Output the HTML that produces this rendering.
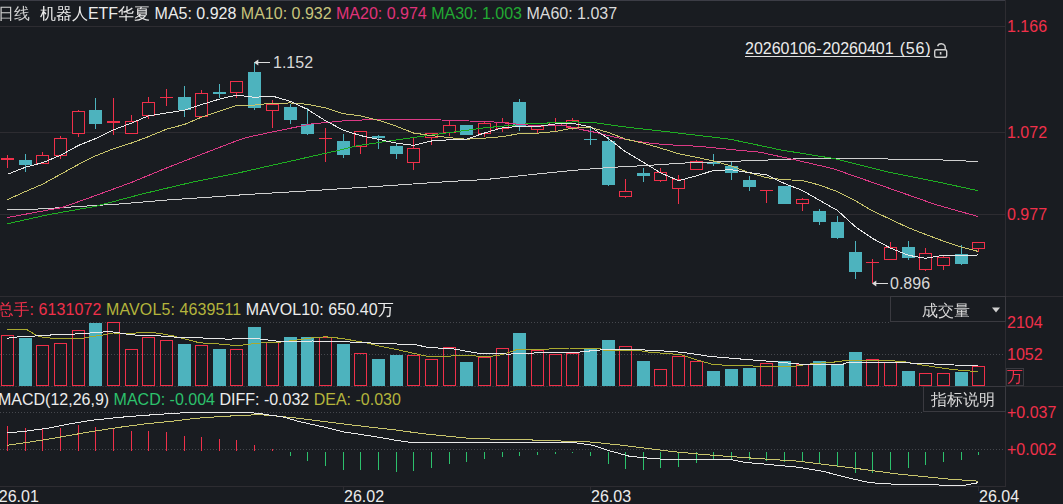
<!DOCTYPE html>
<html><head><meta charset="utf-8"><style>
html,body{margin:0;padding:0;background:#191c21;width:1063px;height:504px;overflow:hidden}
#root{position:relative;width:1063px;height:504px;overflow:hidden;background:#191c21}
svg{position:absolute;left:0;top:0}
.t{position:absolute;white-space:nowrap;font-family:'Liberation Sans','WenQuanYi Zen Hei',sans-serif;line-height:18px}
.ul{text-decoration:underline;text-decoration-skip-ink:none;text-underline-offset:2.5px}
</style></head><body><div id="root">
<svg width="1063" height="504" viewBox="0 0 1063 504">
<g shape-rendering="crispEdges" stroke-width="1" fill="none">
<line x1="0" y1="0.5" x2="1005" y2="0.5" stroke="#3c3d46"/>
<line x1="0" y1="26.5" x2="1005" y2="26.5" stroke="#2d2c31"/>
<line x1="0" y1="132.5" x2="1005" y2="132.5" stroke="#2d2c31"/>
<line x1="0" y1="214.5" x2="1005" y2="214.5" stroke="#2d2c31"/>
<line x1="0" y1="296.5" x2="1063" y2="296.5" stroke="#2d2c31"/>
<line x1="0" y1="322.5" x2="890" y2="322.5" stroke="#45474d" stroke-dasharray="1 2"/>
<line x1="0" y1="354.5" x2="1005" y2="354.5" stroke="#45474d" stroke-dasharray="1 2"/>
<line x1="0" y1="386.5" x2="1005" y2="386.5" stroke="#333238" stroke-dasharray="2 1"/><line x1="1005" y1="386.5" x2="1063" y2="386.5" stroke="#2d2c31"/>
<line x1="0" y1="412.5" x2="924" y2="412.5" stroke="#45474d" stroke-dasharray="1 2"/>
<line x1="0" y1="449.5" x2="1005" y2="449.5" stroke="#45474d" stroke-dasharray="1 2"/>
<line x1="0" y1="486.5" x2="1005" y2="486.5" stroke="#2d2c31"/>
<line x1="1005.5" y1="0" x2="1005.5" y2="487" stroke="#2d2c31"/>
<line x1="343.5" y1="487" x2="343.5" y2="491" stroke="#2d2c31"/>
<line x1="590.5" y1="487" x2="590.5" y2="491" stroke="#2d2c31"/>
<line x1="978.5" y1="487" x2="978.5" y2="491" stroke="#2d2c31"/>
</g>
<g shape-rendering="crispEdges">
<rect x="7" y="155" width="1" height="13" fill="#f0304a"/>
<rect x="1" y="158" width="13" height="2" fill="#f0304a"/>
<rect x="25" y="154" width="1" height="18" fill="#4db3be"/>
<rect x="19" y="160" width="13" height="5" fill="#4db3be"/>
<rect x="42" y="152" width="1" height="12" fill="#f0304a"/>
<rect x="36" y="155" width="13" height="9" fill="#191c21"/>
<rect x="36.5" y="155.5" width="12" height="8" fill="none" stroke="#f0304a"/>
<rect x="60" y="136" width="1" height="23" fill="#f0304a"/>
<rect x="54" y="138" width="13" height="18" fill="#191c21"/>
<rect x="54.5" y="138.5" width="12" height="17" fill="none" stroke="#f0304a"/>
<rect x="78" y="110" width="1" height="27" fill="#f0304a"/>
<rect x="72" y="111" width="13" height="23" fill="#191c21"/>
<rect x="72.5" y="111.5" width="12" height="22" fill="none" stroke="#f0304a"/>
<rect x="95" y="98" width="1" height="31" fill="#4db3be"/>
<rect x="89" y="110" width="13" height="14" fill="#4db3be"/>
<rect x="113" y="98" width="1" height="37" fill="#f0304a"/>
<rect x="107" y="121" width="13" height="2" fill="#f0304a"/>
<rect x="131" y="115" width="1" height="19" fill="#f0304a"/>
<rect x="125" y="121" width="13" height="13" fill="#191c21"/>
<rect x="125.5" y="121.5" width="12" height="12" fill="none" stroke="#f0304a"/>
<rect x="148" y="97" width="1" height="22" fill="#f0304a"/>
<rect x="142" y="102" width="13" height="14" fill="#191c21"/>
<rect x="142.5" y="102.5" width="12" height="13" fill="none" stroke="#f0304a"/>
<rect x="166" y="89" width="1" height="17" fill="#f0304a"/>
<rect x="160" y="97" width="13" height="1" fill="#f0304a"/>
<rect x="184" y="86" width="1" height="31" fill="#4db3be"/>
<rect x="178" y="97" width="13" height="13" fill="#4db3be"/>
<rect x="201" y="90" width="1" height="27" fill="#f0304a"/>
<rect x="195" y="93" width="13" height="24" fill="#191c21"/>
<rect x="195.5" y="93.5" width="12" height="23" fill="none" stroke="#f0304a"/>
<rect x="219" y="84" width="1" height="14" fill="#4db3be"/>
<rect x="213" y="92" width="13" height="2" fill="#4db3be"/>
<rect x="236" y="81" width="1" height="17" fill="#f0304a"/>
<rect x="230" y="81" width="13" height="12" fill="#191c21"/>
<rect x="230.5" y="81.5" width="12" height="11" fill="none" stroke="#f0304a"/>
<rect x="254" y="62" width="1" height="48" fill="#4db3be"/>
<rect x="248" y="72" width="13" height="36" fill="#4db3be"/>
<rect x="272" y="100" width="1" height="28" fill="#f0304a"/>
<rect x="266" y="104" width="13" height="7" fill="#191c21"/>
<rect x="266.5" y="104.5" width="12" height="6" fill="none" stroke="#f0304a"/>
<rect x="290" y="104" width="1" height="20" fill="#4db3be"/>
<rect x="284" y="107" width="13" height="13" fill="#4db3be"/>
<rect x="307" y="108" width="1" height="27" fill="#4db3be"/>
<rect x="301" y="124" width="13" height="10" fill="#4db3be"/>
<rect x="325" y="128" width="1" height="34" fill="#f0304a"/>
<rect x="319" y="138" width="13" height="1" fill="#f0304a"/>
<rect x="343" y="134" width="1" height="24" fill="#4db3be"/>
<rect x="337" y="141" width="13" height="14" fill="#4db3be"/>
<rect x="360" y="131" width="1" height="23" fill="#f0304a"/>
<rect x="354" y="131" width="13" height="16" fill="#191c21"/>
<rect x="354.5" y="131.5" width="12" height="15" fill="none" stroke="#f0304a"/>
<rect x="378" y="135" width="1" height="14" fill="#4db3be"/>
<rect x="372" y="136" width="13" height="2" fill="#4db3be"/>
<rect x="396" y="144" width="1" height="15" fill="#4db3be"/>
<rect x="390" y="146" width="13" height="8" fill="#4db3be"/>
<rect x="413" y="137" width="1" height="33" fill="#f0304a"/>
<rect x="407" y="148" width="13" height="15" fill="#191c21"/>
<rect x="407.5" y="148.5" width="12" height="14" fill="none" stroke="#f0304a"/>
<rect x="431" y="133" width="1" height="12" fill="#f0304a"/>
<rect x="425" y="133" width="13" height="5" fill="#191c21"/>
<rect x="425.5" y="133.5" width="12" height="4" fill="none" stroke="#f0304a"/>
<rect x="449" y="121" width="1" height="15" fill="#f0304a"/>
<rect x="443" y="125" width="13" height="8" fill="#191c21"/>
<rect x="443.5" y="125.5" width="12" height="7" fill="none" stroke="#f0304a"/>
<rect x="466" y="125" width="1" height="10" fill="#4db3be"/>
<rect x="460" y="125" width="13" height="10" fill="#4db3be"/>
<rect x="484" y="121" width="1" height="16" fill="#f0304a"/>
<rect x="478" y="123" width="13" height="11" fill="#191c21"/>
<rect x="478.5" y="123.5" width="12" height="10" fill="none" stroke="#f0304a"/>
<rect x="502" y="118" width="1" height="14" fill="#f0304a"/>
<rect x="496" y="122" width="13" height="7" fill="#191c21"/>
<rect x="496.5" y="122.5" width="12" height="6" fill="none" stroke="#f0304a"/>
<rect x="519" y="99" width="1" height="32" fill="#4db3be"/>
<rect x="513" y="102" width="13" height="24" fill="#4db3be"/>
<rect x="537" y="126" width="1" height="7" fill="#f0304a"/>
<rect x="531" y="126" width="13" height="4" fill="#191c21"/>
<rect x="531.5" y="126.5" width="12" height="3" fill="none" stroke="#f0304a"/>
<rect x="555" y="118" width="1" height="14" fill="#f0304a"/>
<rect x="549" y="122" width="13" height="4" fill="#191c21"/>
<rect x="549.5" y="122.5" width="12" height="3" fill="none" stroke="#f0304a"/>
<rect x="572" y="118" width="1" height="12" fill="#f0304a"/>
<rect x="566" y="120" width="13" height="8" fill="#191c21"/>
<rect x="566.5" y="120.5" width="12" height="7" fill="none" stroke="#f0304a"/>
<rect x="590" y="128" width="1" height="17" fill="#4db3be"/>
<rect x="584" y="139" width="13" height="1" fill="#4db3be"/>
<rect x="608" y="137" width="1" height="49" fill="#4db3be"/>
<rect x="602" y="141" width="13" height="44" fill="#4db3be"/>
<rect x="625" y="179" width="1" height="19" fill="#f0304a"/>
<rect x="619" y="191" width="13" height="6" fill="#191c21"/>
<rect x="619.5" y="191.5" width="12" height="5" fill="none" stroke="#f0304a"/>
<rect x="643" y="168" width="1" height="14" fill="#4db3be"/>
<rect x="637" y="173" width="13" height="3" fill="#4db3be"/>
<rect x="660" y="168" width="1" height="14" fill="#f0304a"/>
<rect x="654" y="172" width="13" height="9" fill="#191c21"/>
<rect x="654.5" y="172.5" width="12" height="8" fill="none" stroke="#f0304a"/>
<rect x="678" y="175" width="1" height="29" fill="#f0304a"/>
<rect x="672" y="179" width="13" height="10" fill="#191c21"/>
<rect x="672.5" y="179.5" width="12" height="9" fill="none" stroke="#f0304a"/>
<rect x="696" y="160" width="1" height="10" fill="#f0304a"/>
<rect x="690" y="161" width="13" height="9" fill="#191c21"/>
<rect x="690.5" y="161.5" width="12" height="8" fill="none" stroke="#f0304a"/>
<rect x="713" y="154" width="1" height="12" fill="#4db3be"/>
<rect x="707" y="162" width="13" height="2" fill="#4db3be"/>
<rect x="731" y="162" width="1" height="18" fill="#4db3be"/>
<rect x="725" y="166" width="13" height="7" fill="#4db3be"/>
<rect x="749" y="176" width="1" height="15" fill="#4db3be"/>
<rect x="743" y="180" width="13" height="7" fill="#4db3be"/>
<rect x="766" y="190" width="1" height="13" fill="#f0304a"/>
<rect x="760" y="190" width="13" height="1" fill="#f0304a"/>
<rect x="784" y="186" width="1" height="18" fill="#4db3be"/>
<rect x="778" y="186" width="13" height="18" fill="#4db3be"/>
<rect x="802" y="198" width="1" height="13" fill="#f0304a"/>
<rect x="796" y="199" width="13" height="5" fill="#191c21"/>
<rect x="796.5" y="199.5" width="12" height="4" fill="none" stroke="#f0304a"/>
<rect x="819" y="209" width="1" height="16" fill="#4db3be"/>
<rect x="813" y="211" width="13" height="11" fill="#4db3be"/>
<rect x="837" y="216" width="1" height="23" fill="#4db3be"/>
<rect x="831" y="222" width="13" height="16" fill="#4db3be"/>
<rect x="855" y="241" width="1" height="38" fill="#4db3be"/>
<rect x="849" y="252" width="13" height="20" fill="#4db3be"/>
<rect x="872" y="259" width="1" height="24" fill="#f0304a"/>
<rect x="866" y="262" width="13" height="1" fill="#f0304a"/>
<rect x="890" y="242" width="1" height="18" fill="#f0304a"/>
<rect x="884" y="247" width="13" height="13" fill="#191c21"/>
<rect x="884.5" y="247.5" width="12" height="12" fill="none" stroke="#f0304a"/>
<rect x="908" y="241" width="1" height="19" fill="#4db3be"/>
<rect x="902" y="247" width="13" height="11" fill="#4db3be"/>
<rect x="925" y="248" width="1" height="23" fill="#f0304a"/>
<rect x="919" y="253" width="13" height="17" fill="#191c21"/>
<rect x="919.5" y="253.5" width="12" height="16" fill="none" stroke="#f0304a"/>
<rect x="943" y="256" width="1" height="14" fill="#f0304a"/>
<rect x="937" y="257" width="13" height="9" fill="#191c21"/>
<rect x="937.5" y="257.5" width="12" height="8" fill="none" stroke="#f0304a"/>
<rect x="961" y="245" width="1" height="20" fill="#4db3be"/>
<rect x="955" y="254" width="13" height="10" fill="#4db3be"/>
<rect x="978" y="242" width="1" height="10" fill="#f0304a"/>
<rect x="972" y="242" width="13" height="7" fill="#191c21"/>
<rect x="972.5" y="242.5" width="12" height="6" fill="none" stroke="#f0304a"/>
</g>
<g fill="none" stroke-width="1" shape-rendering="crispEdges">
<polyline points="7.1,209.3 33.3,209.3 61.9,207.6 119.0,204.0 166.7,200.0 214.0,196.9 245.0,194.6 311.4,190.7 382.9,186.0 454.3,181.2 485.0,179.6 527.6,175.0 575.2,170.2 611.0,167.4 646.7,165.5 682.4,163.1 730.0,161.4 776.4,159.7 807.4,158.4 846.0,158.4 936.3,159.7 977.6,161.5" stroke="#d0d0d0"/>
<polyline points="7.1,223.8 47.6,214.8 95.2,206.4 142.9,193.8 190.5,182.6 245.0,171.5 260.0,168.0 291.7,160.9 323.5,153.7 339.4,150.2 355.2,146.1 387.0,141.3 420.0,136.6 450.0,132.5 485.0,127.8 527.6,123.8 575.2,121.9 594.3,122.6 622.9,126.7 670.5,132.1 730.0,139.2 781.6,150.1 833.2,158.4 884.8,171.3 936.3,181.6 977.6,190.6" stroke="#1fae22"/>
<polyline points="7.1,217.6 54.8,208.8 61.9,207.6 95.2,195.7 131.0,182.6 166.7,167.9 202.4,154.0 240.0,139.5 250.0,136.7 275.7,131.2 311.4,124.0 347.0,120.5 382.9,119.3 423.3,119.3 454.3,120.5 490.0,121.7 527.6,125.0 563.3,125.0 580.0,129.3 596.9,132.7 613.9,136.9 630.8,140.3 647.8,142.9 664.7,144.6 681.7,145.4 698.6,146.3 715.6,148.0 732.5,149.7 760.0,152.2 794.5,159.7 833.2,168.7 884.8,186.7 936.3,204.8 977.6,216.4" stroke="#dc3a86"/>
<polyline points="7.5,199.6 25.5,191.5 42.5,184.2 60.5,174.3 78.5,164.4 95.5,155.9 113.5,148.7 131.5,143.0 148.5,136.6 166.5,129.2 184.5,124.4 201.5,117.2 219.5,111.1 236.5,105.4 254.5,105.1 272.5,103.1 290.5,103.0 307.5,104.3 325.5,107.9 343.5,113.7 360.5,115.8 378.5,120.3 396.5,126.3 413.5,133.0 431.5,135.6 449.5,137.7 466.5,139.2 484.5,138.1 502.5,136.6 519.5,133.6 537.5,133.1 555.5,131.5 572.5,128.2 590.5,127.4 608.5,132.5 625.5,139.1 643.5,143.2 660.5,148.1 678.5,153.7 696.5,157.3 713.5,161.0 731.5,166.1 749.5,172.8 766.5,177.7 784.5,179.7 802.5,180.5 819.5,185.1 837.5,191.6 855.5,200.9 872.5,210.9 890.5,219.3 908.5,227.8 925.5,234.4 943.5,241.1 961.5,247.2 978.5,251.5" stroke="#c8c46c"/>
<polyline points="7.5,174.3 25.5,167.2 42.5,162.7 60.5,155.3 78.5,145.4 95.5,138.6 113.5,129.8 131.5,123.1 148.5,115.8 166.5,113.0 184.5,110.2 201.5,104.6 219.5,99.1 236.5,95.1 254.5,97.3 272.5,96.1 290.5,101.4 307.5,109.4 325.5,120.8 343.5,130.2 360.5,135.6 378.5,139.3 396.5,143.2 413.5,145.3 431.5,141.0 449.5,139.8 466.5,139.1 484.5,133.0 502.5,127.8 519.5,126.3 537.5,126.5 555.5,123.9 572.5,123.3 590.5,126.9 608.5,138.7 625.5,151.7 643.5,162.4 660.5,172.8 678.5,180.6 696.5,175.9 713.5,170.4 731.5,169.8 749.5,172.7 766.5,174.9 784.5,183.5 802.5,190.5 819.5,200.3 837.5,210.5 855.5,226.9 872.5,238.4 890.5,248.1 908.5,255.3 925.5,258.3 943.5,255.3 961.5,255.9 978.5,254.9" stroke="#e8e8e8"/>
</g>
<g fill="#dcdcdc">
<rect x="258" y="62" width="12" height="1" shape-rendering="crispEdges"/><polygon points="254,62.5 258.3,59.6 258.3,65.4"/>
<rect x="876" y="283" width="12" height="1" shape-rendering="crispEdges"/><polygon points="872,283.5 876.3,280.6 876.3,286.4"/>
</g>
<g shape-rendering="crispEdges">
<rect x="1.5" y="335.5" width="12" height="50" fill="none" stroke="#f0304a"/>
<rect x="19" y="338" width="13" height="48" fill="#4db3be"/>
<rect x="36.5" y="345.5" width="12" height="40" fill="none" stroke="#f0304a"/>
<rect x="54.5" y="343.5" width="12" height="42" fill="none" stroke="#f0304a"/>
<rect x="72.5" y="330.5" width="12" height="55" fill="none" stroke="#f0304a"/>
<rect x="89" y="323" width="13" height="63" fill="#4db3be"/>
<rect x="107.5" y="322.5" width="12" height="63" fill="none" stroke="#f0304a"/>
<rect x="125.5" y="349.5" width="12" height="36" fill="none" stroke="#f0304a"/>
<rect x="142.5" y="337.5" width="12" height="48" fill="none" stroke="#f0304a"/>
<rect x="160.5" y="340.5" width="12" height="45" fill="none" stroke="#f0304a"/>
<rect x="178" y="344" width="13" height="42" fill="#4db3be"/>
<rect x="195.5" y="345.5" width="12" height="40" fill="none" stroke="#f0304a"/>
<rect x="213" y="349" width="13" height="37" fill="#4db3be"/>
<rect x="230.5" y="349.5" width="12" height="36" fill="none" stroke="#f0304a"/>
<rect x="248" y="327" width="13" height="59" fill="#4db3be"/>
<rect x="266.5" y="342.5" width="12" height="43" fill="none" stroke="#f0304a"/>
<rect x="284" y="337" width="13" height="49" fill="#4db3be"/>
<rect x="301" y="337" width="13" height="49" fill="#4db3be"/>
<rect x="319.5" y="337.5" width="12" height="48" fill="none" stroke="#f0304a"/>
<rect x="337" y="344" width="13" height="42" fill="#4db3be"/>
<rect x="354.5" y="353.5" width="12" height="32" fill="none" stroke="#f0304a"/>
<rect x="372" y="359" width="13" height="27" fill="#4db3be"/>
<rect x="390" y="355" width="13" height="31" fill="#4db3be"/>
<rect x="407.5" y="355.5" width="12" height="30" fill="none" stroke="#f0304a"/>
<rect x="425.5" y="359.5" width="12" height="26" fill="none" stroke="#f0304a"/>
<rect x="443.5" y="347.5" width="12" height="38" fill="none" stroke="#f0304a"/>
<rect x="460" y="362" width="13" height="24" fill="#4db3be"/>
<rect x="478.5" y="357.5" width="12" height="28" fill="none" stroke="#f0304a"/>
<rect x="496.5" y="348.5" width="12" height="37" fill="none" stroke="#f0304a"/>
<rect x="513" y="333" width="13" height="53" fill="#4db3be"/>
<rect x="531.5" y="350.5" width="12" height="35" fill="none" stroke="#f0304a"/>
<rect x="549.5" y="354.5" width="12" height="31" fill="none" stroke="#f0304a"/>
<rect x="566.5" y="353.5" width="12" height="32" fill="none" stroke="#f0304a"/>
<rect x="584" y="348" width="13" height="38" fill="#4db3be"/>
<rect x="602" y="340" width="13" height="46" fill="#4db3be"/>
<rect x="619.5" y="346.5" width="12" height="39" fill="none" stroke="#f0304a"/>
<rect x="637" y="361" width="13" height="25" fill="#4db3be"/>
<rect x="654.5" y="369.5" width="12" height="16" fill="none" stroke="#f0304a"/>
<rect x="672.5" y="356.5" width="12" height="29" fill="none" stroke="#f0304a"/>
<rect x="690.5" y="361.5" width="12" height="24" fill="none" stroke="#f0304a"/>
<rect x="707" y="371" width="13" height="15" fill="#4db3be"/>
<rect x="725" y="369" width="13" height="17" fill="#4db3be"/>
<rect x="743" y="368" width="13" height="18" fill="#4db3be"/>
<rect x="760.5" y="363.5" width="12" height="22" fill="none" stroke="#f0304a"/>
<rect x="778" y="361" width="13" height="25" fill="#4db3be"/>
<rect x="796.5" y="364.5" width="12" height="21" fill="none" stroke="#f0304a"/>
<rect x="813" y="361" width="13" height="25" fill="#4db3be"/>
<rect x="831" y="364" width="13" height="22" fill="#4db3be"/>
<rect x="849" y="352" width="13" height="34" fill="#4db3be"/>
<rect x="866.5" y="359.5" width="12" height="26" fill="none" stroke="#f0304a"/>
<rect x="884.5" y="362.5" width="12" height="23" fill="none" stroke="#f0304a"/>
<rect x="902" y="371" width="13" height="15" fill="#4db3be"/>
<rect x="919.5" y="373.5" width="12" height="12" fill="none" stroke="#f0304a"/>
<rect x="937.5" y="373.5" width="12" height="12" fill="none" stroke="#f0304a"/>
<rect x="955" y="372" width="13" height="14" fill="#4db3be"/>
<rect x="972.5" y="366.5" width="12" height="19" fill="none" stroke="#f0304a"/>
</g>
<g fill="none" stroke-width="1" shape-rendering="crispEdges">
<polyline points="7.1,329.3 26.3,329.3 35.7,335.0 40.5,336.8 52.7,338.3 82.8,338.3 90.3,336.8 105.4,334.6 112.9,333.0 131.7,333.4 146.8,332.1 159.9,333.4 173.1,335.9 190.0,340.2 199.4,342.8 223.9,344.3 237.0,345.8 248.3,344.3 265.3,342.5 280.3,342.1 295.4,340.2 312.3,337.8 325.5,336.8 340.5,338.3 359.3,341.5 368.7,343.4 380.0,346.2 398.8,350.0 413.9,353.4 428.9,356.6 440.2,356.2 474.1,355.6 477.8,356.6 489.1,356.6 502.3,354.7 515.5,350.0 530.5,349.6 543.7,350.0 551.2,348.5 570.0,348.0 599.3,348.0 603.9,350.3 637.7,350.3 646.7,351.9 660.3,353.0 680.6,354.6 696.4,359.8 712.2,364.3 728.0,365.4 757.4,366.1 795.7,366.1 815.0,363.2 828.2,362.8 843.3,360.9 850.8,360.3 884.7,360.3 903.5,361.6 922.3,365.0 941.1,367.9 954.3,369.7 977.6,371.6" stroke="#aaaa30"/>
<polyline points="7.1,338.3 18.8,336.8 37.6,335.9 56.4,334.6 75.3,334.0 94.0,332.7 109.1,331.5 120.4,333.0 131.7,334.9 159.9,335.9 178.7,337.4 190.0,337.4 208.8,338.3 227.6,339.1 244.6,338.7 257.7,338.7 269.0,340.2 280.3,341.5 295.4,341.5 312.3,341.0 340.5,341.5 359.3,342.5 380.0,343.4 415.7,344.7 428.9,347.7 451.5,348.5 470.3,351.9 479.7,353.4 492.9,353.4 507.9,354.1 526.8,353.4 549.3,352.2 570.0,353.0 592.6,350.7 603.9,349.6 637.7,349.6 671.6,351.4 687.4,353.0 710.0,356.4 741.6,359.1 773.2,361.6 800.0,364.1 843.3,364.1 847.0,362.8 880.9,362.2 916.7,363.2 935.5,364.1 954.3,365.0 977.6,365.4" stroke="#e8e8e8"/>
</g>
<g shape-rendering="crispEdges">
<rect x="7" y="426" width="1" height="25" fill="#f0304a"/>
<rect x="25" y="428" width="1" height="23" fill="#f0304a"/>
<rect x="42" y="429" width="1" height="22" fill="#f0304a"/>
<rect x="60" y="428" width="1" height="23" fill="#f0304a"/>
<rect x="78" y="425" width="1" height="26" fill="#f0304a"/>
<rect x="95" y="427" width="1" height="24" fill="#f0304a"/>
<rect x="113" y="429" width="1" height="22" fill="#f0304a"/>
<rect x="131" y="431" width="1" height="20" fill="#f0304a"/>
<rect x="148" y="431" width="1" height="20" fill="#f0304a"/>
<rect x="166" y="432" width="1" height="19" fill="#f0304a"/>
<rect x="184" y="436" width="1" height="15" fill="#f0304a"/>
<rect x="201" y="437" width="1" height="14" fill="#f0304a"/>
<rect x="219" y="439" width="1" height="12" fill="#f0304a"/>
<rect x="236" y="440" width="1" height="11" fill="#f0304a"/>
<rect x="254" y="445" width="1" height="6" fill="#f0304a"/>
<rect x="272" y="449" width="1" height="2" fill="#f0304a"/>
<rect x="290" y="452" width="1" height="4" fill="#2cc16c"/>
<rect x="307" y="452" width="1" height="9" fill="#2cc16c"/>
<rect x="325" y="452" width="1" height="14" fill="#2cc16c"/>
<rect x="343" y="452" width="1" height="18" fill="#2cc16c"/>
<rect x="360" y="452" width="1" height="18" fill="#2cc16c"/>
<rect x="378" y="452" width="1" height="18" fill="#2cc16c"/>
<rect x="396" y="452" width="1" height="20" fill="#2cc16c"/>
<rect x="413" y="452" width="1" height="19" fill="#2cc16c"/>
<rect x="431" y="452" width="1" height="16" fill="#2cc16c"/>
<rect x="449" y="452" width="1" height="12" fill="#2cc16c"/>
<rect x="466" y="452" width="1" height="10" fill="#2cc16c"/>
<rect x="484" y="452" width="1" height="7" fill="#2cc16c"/>
<rect x="502" y="452" width="1" height="5" fill="#2cc16c"/>
<rect x="519" y="452" width="1" height="4" fill="#2cc16c"/>
<rect x="537" y="452" width="1" height="3" fill="#2cc16c"/>
<rect x="555" y="452" width="1" height="2" fill="#2cc16c"/>
<rect x="572" y="452" width="1" height="1" fill="#2cc16c"/>
<rect x="590" y="452" width="1" height="4" fill="#2cc16c"/>
<rect x="608" y="452" width="1" height="12" fill="#2cc16c"/>
<rect x="625" y="452" width="1" height="17" fill="#2cc16c"/>
<rect x="643" y="452" width="1" height="18" fill="#2cc16c"/>
<rect x="660" y="452" width="1" height="16" fill="#2cc16c"/>
<rect x="678" y="452" width="1" height="15" fill="#2cc16c"/>
<rect x="696" y="452" width="1" height="11" fill="#2cc16c"/>
<rect x="713" y="452" width="1" height="8" fill="#2cc16c"/>
<rect x="731" y="452" width="1" height="8" fill="#2cc16c"/>
<rect x="749" y="452" width="1" height="8" fill="#2cc16c"/>
<rect x="766" y="452" width="1" height="9" fill="#2cc16c"/>
<rect x="784" y="452" width="1" height="10" fill="#2cc16c"/>
<rect x="802" y="452" width="1" height="9" fill="#2cc16c"/>
<rect x="819" y="452" width="1" height="11" fill="#2cc16c"/>
<rect x="837" y="452" width="1" height="14" fill="#2cc16c"/>
<rect x="855" y="452" width="1" height="21" fill="#2cc16c"/>
<rect x="872" y="452" width="1" height="21" fill="#2cc16c"/>
<rect x="890" y="452" width="1" height="18" fill="#2cc16c"/>
<rect x="908" y="452" width="1" height="16" fill="#2cc16c"/>
<rect x="925" y="452" width="1" height="13" fill="#2cc16c"/>
<rect x="943" y="452" width="1" height="10" fill="#2cc16c"/>
<rect x="961" y="452" width="1" height="8" fill="#2cc16c"/>
<rect x="978" y="452" width="1" height="3" fill="#2cc16c"/>
</g>
<g fill="none" stroke-width="1" shape-rendering="crispEdges">
<polyline points="7.3,445.3 24.5,442.8 48.9,439.1 73.4,434.7 97.8,430.6 122.3,426.9 146.8,423.7 171.2,421.3 195.7,418.3 220.2,416.6 244.6,415.2 260.0,414.7 274.5,415.9 298.9,418.3 323.4,421.5 347.8,424.5 372.3,427.4 396.8,430.1 421.2,433.5 445.7,436.0 470.2,438.4 510.0,439.6 529.4,439.9 563.6,441.1 593.0,442.1 622.3,445.3 646.8,448.4 671.2,451.4 695.7,453.8 720.2,455.8 760.0,458.7 798.9,461.2 847.8,467.3 896.8,473.9 945.7,478.8 978.2,481.2" stroke="#c8c46c"/>
<polyline points="7.3,433.0 24.5,431.3 48.9,428.1 73.4,423.2 93.0,420.1 122.3,417.1 146.8,415.2 171.2,413.5 195.7,412.2 244.6,412.2 260.0,413.5 267.1,414.7 281.8,416.6 298.9,421.5 323.4,426.9 343.0,431.8 372.3,436.2 396.8,440.4 409.0,442.1 457.9,442.8 510.0,442.6 575.8,442.8 593.0,445.3 610.0,450.9 629.6,456.3 646.8,458.0 671.2,459.9 732.4,459.9 744.6,462.4 764.7,464.1 798.9,467.3 823.4,471.4 847.8,477.8 869.9,482.7 896.8,484.4 945.7,485.1 965.3,485.1 978.2,482.7" stroke="#e8e8e8"/>
</g>
<g shape-rendering="crispEdges" fill="#191c21" stroke="#3a3a40">
<rect x="890.5" y="296.5" width="115" height="25"/>
<rect x="923.5" y="386.5" width="82" height="25"/>
<rect x="1006.5" y="368.5" width="17" height="17"/>
</g>
<rect x="745" y="56" width="185" height="1" fill="#e0e0e0" shape-rendering="crispEdges"/>
<polygon points="992,307.5 1000,307.5 996,312.5" fill="#d0d0d0"/>
<g fill="none" stroke="#cfcfcf" stroke-width="1.4">
<rect x="934.7" y="49.7" width="12" height="7.6" rx="1.5"/>
<path d="M937.6,46.2 C938.5,43.2 943.5,42.6 945,46 L945.3,49"/>
<line x1="940.6" y1="52" x2="940.6" y2="54.6" stroke-width="1.6"/>
</g>
</svg>
<div class="t" style="left:-1px;top:5px;color:#fff;font-size:16px;"><span style="color:#cfcfcf;position:relative;left:-1px">日线</span>&nbsp;&nbsp;<span style="color:#ececec">机器人ETF华夏</span> <span style="color:#ececec">MA5: 0.928</span> <span style="color:#c8c47c">MA10: 0.932</span> <span style="color:#e0337a">MA20: 0.974</span> <span style="color:#22aa33">MA30: 1.003</span> <span style="color:#dadada">MA60: 1.037</span></div><div class="t" style="left:745px;top:39.5px;color:#ececec;font-size:16px;">20260106<span style="letter-spacing:0.9px">-</span>20260401<span style="letter-spacing:1.6px"> </span><span style="letter-spacing:0.8px">(56</span>)</div><div class="t" style="left:1007px;top:18px;color:#f0304a;font-size:16px;">1.166</div><div class="t" style="left:1007px;top:124px;color:#f0304a;font-size:16px;">1.072</div><div class="t" style="left:1007px;top:206px;color:#f0304a;font-size:16px;">0.977</div><div class="t" style="left:273px;top:54px;color:#d8d8d8;font-size:16px;">1.152</div><div class="t" style="left:890px;top:275px;color:#d8d8d8;font-size:16px;">0.896</div><div class="t" style="left:-2.5px;top:301px;color:#fff;font-size:16px;"><span style="color:#f0304a">总手: <span style="letter-spacing:0.12px">6131072</span></span><span style="letter-spacing:0.1px"> <span style="color:#b4b43c">MAVOL5: 4639511</span> <span style="color:#ececec">MAVOL10: 650.40万</span></span></div><div class="t" style="left:922px;top:301.5px;color:#d8d8d8;font-size:16px;">成交量</div><div class="t" style="left:1007px;top:313.5px;color:#f0304a;font-size:16px;">2104</div><div class="t" style="left:1007px;top:345.5px;color:#f0304a;font-size:16px;">1052</div><div class="t" style="left:1007px;top:368px;color:#f0304a;font-size:16px;">万</div><div class="t" style="left:931px;top:391px;color:#d8d8d8;font-size:16px;">指标说明</div><div class="t" style="left:-2px;top:390.5px;color:#fff;font-size:16px;"><span style="color:#ececec">MACD(12,26,9)</span> <span style="color:#2cc16c">MACD: -0.004</span> <span style="color:#ececec">DIFF: -0.032</span> <span style="color:#b4b43c">DEA: -0.030</span></div><div class="t" style="left:1007px;top:404px;color:#f0304a;font-size:16px;">+0.037</div><div class="t" style="left:1007px;top:441px;color:#f0304a;font-size:16px;">+0.002</div><div class="t" style="left:-1.2px;top:487.5px;color:#ececec;font-size:16px;">26.01</div><div class="t" style="left:344px;top:487.5px;color:#ececec;font-size:16px;">26.02</div><div class="t" style="left:591px;top:487.5px;color:#ececec;font-size:16px;">26.03</div><div class="t" style="left:979px;top:487.5px;color:#ececec;font-size:16px;">26.04</div>
</div></body></html>
